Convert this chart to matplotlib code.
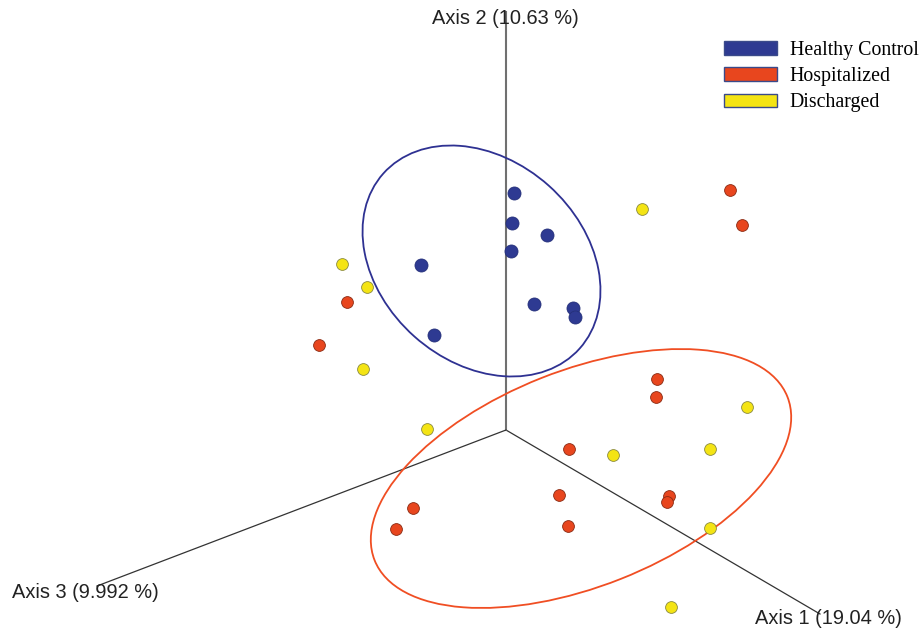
import matplotlib.pyplot as plt
from matplotlib.patches import Ellipse, Patch

# projected PCoA coordinates (screen projection of the 3D plot)
healthy_x = [514, 512, 547, 511, 421, 534, 573, 575, 434]
healthy_y = [193, 223, 235, 251, 265, 304, 308, 317, 335]

hosp_x = [730, 742, 347, 319, 657, 656, 569, 559, 669, 667, 568, 413, 396]
hosp_y = [190, 225, 302, 345, 379, 397, 449, 495, 496, 502, 526, 508, 529]

disch_x = [642, 342, 367, 363, 427, 613, 747, 710, 710, 671]
disch_y = [209, 264, 287, 369, 429, 455, 407, 449, 528, 607]

# confidence ellipses: centre, width, height, angle
ell_healthy = (481.5, 261, 263, 202, 41.7)
ell_hosp = (581, 478.5, 444, 216, -21.6)

origin = (506, 430)
axis_ends = {"Axis 1 (19.04 %)": (820, 614),
             "Axis 2 (10.63 %)": (506, 12),
             "Axis 3 (9.992 %)": (97, 586)}

blue = "#2E3A92"
red = "#E8461E"
yellow = "#F4E414"

fig = plt.figure(figsize=(9.22, 6.33), dpi=100)
ax = fig.add_axes([0, 0, 1, 1])
ax.set_xlim(0, 922)
ax.set_ylim(633, 0)
ax.axis("off")

# axes of the 3D plot
for name, (ex, ey) in axis_ends.items():
    if name.startswith("Axis 2"):
        ax.plot([origin[0], ex], [origin[1], ey], color="#707070", lw=1.5, zorder=1)
    else:
        ax.plot([origin[0], ex], [origin[1], ey], color="#333333", lw=0.9, zorder=1)

lab = dict(fontsize=14.4, family="Liberation Sans", va="center", ha="left",
           color="#222222")
ax.text(432, 18, "Axis 2 (10.63 %)", **lab)
ax.text(12, 592, "Axis 3 (9.992 %)", **lab)
ax.text(755, 618, "Axis 1 (19.04 %)", **lab)

# ellipses
for (cx, cy, w, h, ang), col in [(ell_healthy, "#2E3192"), (ell_hosp, "#F04E23")]:
    ax.add_patch(Ellipse((cx, cy), w, h, angle=ang, fill=False,
                         edgecolor=col, lw=1.3, zorder=2))

# points
ax.scatter(healthy_x, healthy_y, s=88, color=blue, edgecolor="#25307a",
           linewidth=0.6, zorder=3)
ax.scatter(hosp_x, hosp_y, s=72, color=red, edgecolor="#8a2a12",
           linewidth=0.6, zorder=3)
ax.scatter(disch_x, disch_y, s=72, color=yellow, edgecolor="#8a8a40",
           linewidth=0.6, zorder=3)

handles = [Patch(facecolor=blue, edgecolor="#3a4a8a", lw=1, label="Healthy Control"),
           Patch(facecolor=red, edgecolor="#3a4a8a", lw=1, label="Hospitalized"),
           Patch(facecolor=yellow, edgecolor="#3a4a8a", lw=1, label="Discharged")]
ax.legend(handles=handles, loc="upper left", bbox_to_anchor=(0.785, 0.935),
          frameon=False, prop={"family": "Liberation Serif", "size": 14.3},
          handlelength=2.67, handleheight=0.7, handletextpad=0.65,
          labelspacing=0.36, borderaxespad=0, borderpad=0)

fig.savefig("out.png", dpi=100)
